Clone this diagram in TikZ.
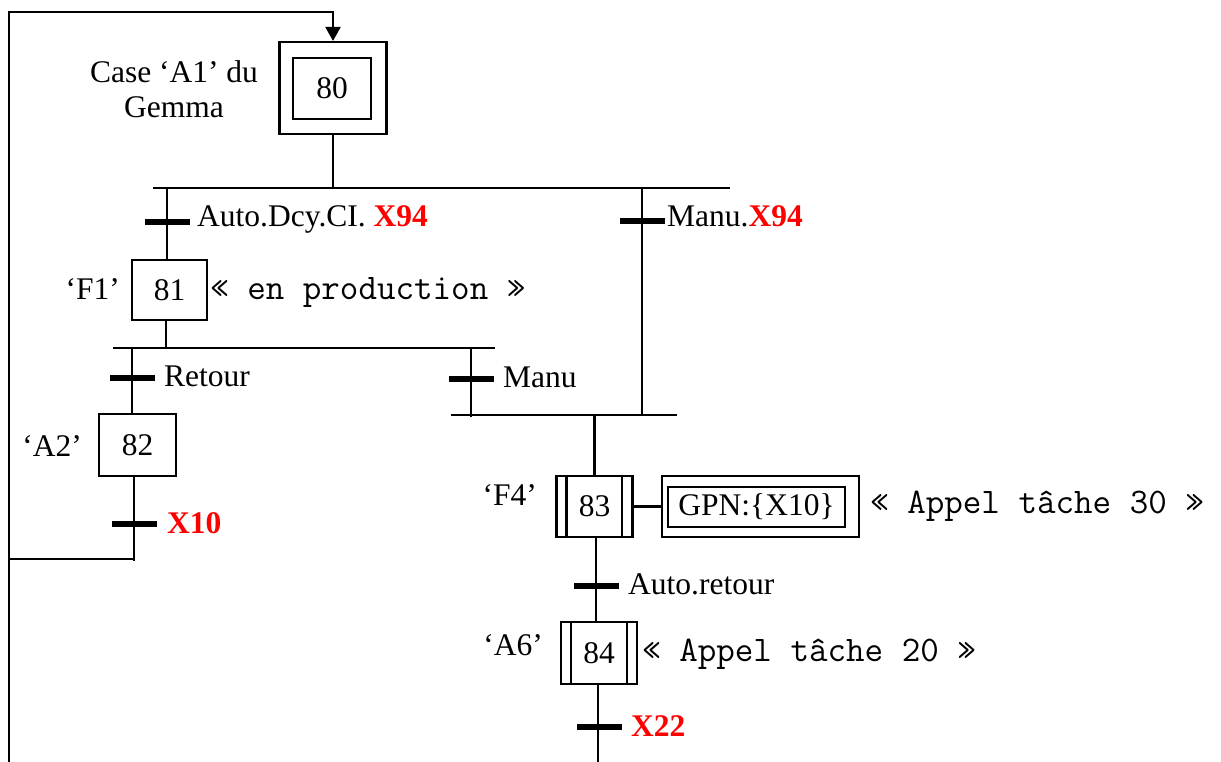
\documentclass[tikz,border=0pt]{standalone}
\usepackage{fontspec}
\setmainfont{Liberation Serif}
\usetikzlibrary{arrows.meta}
\newcommand\bigfont{\fontsize{31.5pt}{35pt}\selectfont}
\newcommand\monofont{\ttfamily\fontsize{36pt}{40pt}\selectfont}
\definecolor{gred}{RGB}{255,0,0}
\tikzset{
  every node/.style={font=\bigfont},
  ln/.style={line width=2.1pt},
  stepbox/.style={draw, line width=2.1pt, inner sep=0pt, minimum width=#1},
  stepbox/.default=76pt,
  transbar/.style={fill=black, draw=none, minimum width=45pt, minimum height=6pt, inner sep=0pt},
  lblw/.style={anchor=base west, inner sep=0pt},
  lble/.style={anchor=base east, inner sep=0pt},
  redb/.style={text=gred, font=\bigfont\bfseries},
  mono/.style={anchor=base west, inner sep=0pt, font=\monofont},
}
\begin{document}
\begin{tikzpicture}[x=1pt,y=-1pt]
\useasboundingbox (0,0) rectangle (1221,762);

% ---------- step 80 (initial) ----------
\node[stepbox=107pt, minimum height=92pt] (s80o) at (333,88) {};
\node[stepbox=78pt, minimum height=61pt] (s80) at (332,88.5) {80};
\node[align=center, anchor=base, inner sep=0pt] (l80) at (174,118) {Case ‘A1’ du\\Gemma};

% loop back line
\coordinate (lb) at (9,762);
\coordinate (lt) at (9,12);
\draw[ln, -{Triangle[width=15pt,length=14pt]}] (lb) -- (lt) -| (s80o.north);

% divergence OR 1
\coordinate (or1l) at (153,188);
\coordinate (or1r) at (730,188);
\draw[ln] (or1l) -- (or1r);
\draw[ln] (s80o.south) -- (s80o.south |- or1l);

% branch Auto
\coordinate (bA) at (167,188);
\node[transbar] (t1) at (167,222) {};
\node[lblw] (lt1) at (197,227) {Auto.Dcy.CI. \textcolor{gred}{\textbf{X94}}};
\node[stepbox=75pt, minimum height=60pt] (s81) at (169.5,290) {81};
\draw[ln] (bA) -- (bA |- s81.north);
\node[lble] (l81) at (120,299) {‘F1’};
\node[mono] (a81) at (210,299) {« en production »};

% branch Manu.X94
\coordinate (bM) at (642,188);
\node[transbar] (t2) at (642,221) {};
\node[lblw] (lt2) at (667,227) {Manu.\textcolor{gred}{\textbf{X94}}};

% divergence OR 2
\coordinate (or2l) at (113,348);
\coordinate (or2r) at (495,348);
\draw[ln] (or2l) -- (or2r);
\coordinate (b81) at (166,320);
\draw[ln] (b81) -- (b81 |- or2l);

% branch Retour
\coordinate (bR) at (132,348);
\node[transbar] (t3) at (132,378) {};
\node[lblw] (lt3) at (164,386) {Retour};
\node[stepbox=77pt, minimum height=62pt] (s82) at (137.5,445) {82};
\draw[ln] (bR) -- (bR |- s82.north);
\node[lble] (l82) at (82,456) {‘A2’};

% below 82
\coordinate (b82) at (134,476);
\coordinate (e82) at (134,561);
\draw[ln] (b82) -- (e82);
\node[transbar] (t5) at (134,524) {};
\node[lblw, redb] (lt5) at (167,533) {X10};
\coordinate (h82) at (134,559);
\draw[ln] (h82) -- (lt |- h82);

% branch Manu
\coordinate (bN) at (471,348);
\coordinate (eN) at (471,417);
\node[transbar] (t4) at (471,379) {};
\node[lblw] (lt4) at (503,387) {Manu};
\draw[ln] (bN) -- (eN);

% convergence OR
\coordinate (cvl) at (451,415);
\coordinate (cvr) at (677,415);
\draw[ln] (cvl) -- (cvr);
\draw[ln] (bM) -- (bM |- cvl);

% step 83 (macro)
\node[stepbox=76pt, minimum height=61pt] (s83) at (594.5,506.5) {83};
\draw[ln] ([xshift=11pt]s83.north west) -- ([xshift=11pt]s83.south west);
\draw[ln] ([xshift=-12pt]s83.north east) -- ([xshift=-12pt]s83.south east);
\draw[ln] (s83.north |- cvl) -- (s83.north);
\node[lble] (l83) at (537,505) {‘F4’};

% GPN action
\node[stepbox=197pt, minimum height=61pt] (g83o) at (760.5,506.5) {};
\node[stepbox=177pt, minimum height=40pt] (g83) at (756.5,507) {GPN:\{X10\}};
\draw[ln] (s83.east) -- (g83o.west);
\node[mono] (a83) at (870,513) {« Appel tâche 30 »};

% Auto.retour
\node[transbar] (t6) at (596,586) {};
\node[lblw] (lt6) at (628,594) {Auto.retour};

% step 84
\node[stepbox=76pt, minimum height=62pt] (s84) at (599,653) {84};
\draw[ln] ([xshift=11pt]s84.north west) -- ([xshift=11pt]s84.south west);
\draw[ln] ([xshift=-11pt]s84.north east) -- ([xshift=-11pt]s84.south east);
\coordinate (m83) at (596,537);
\draw[ln] (m83) -- (m83 |- s84.north);
\node[lble] (l84) at (543,655) {‘A6’};
\node[mono] (a84) at (642,661) {« Appel tâche 20 »};

% below 84
\coordinate (b84) at (598,684);
\coordinate (e84) at (598,762);
\draw[ln] (b84) -- (e84);
\node[transbar] (t7) at (599,727) {};
\node[lblw, redb] (lt7) at (631,736) {X22};
\end{tikzpicture}
\end{document}
